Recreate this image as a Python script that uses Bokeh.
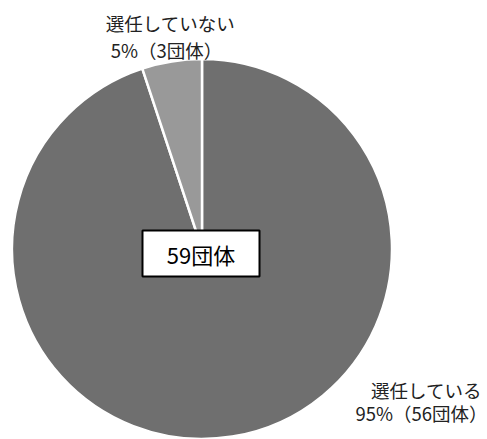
import math
from bokeh.plotting import figure
from bokeh.models import Range1d
from bokeh.core.properties import value
from bokeh.embed import file_html
from bokeh.resources import INLINE

categories = ["選任している", "選任していない"]
counts = [56, 3]
colors = ["#6f6f6f", "#999999"]
total_label = "59団体"
label_lines = [["選任している", "95%（56団体）"], ["選任していない", "5%（3団体）"]]

W, H = 487, 439
p = figure(width=W, height=H, output_backend="svg", toolbar_location=None,
           x_range=Range1d(0, W), y_range=Range1d(0, H), min_border=0)
p.axis.visible = False
p.grid.visible = False
p.outline_line_color = None
p.background_fill_color = "white"

cx, cy, r = 201.5, H - 248.5, 190
total = sum(counts)
# big slice clockwise from 12 o'clock, small slice fills the rest
angles = []
start = math.pi / 2
for c in counts:
    end = start - 2 * math.pi * c / total
    angles.append((end, start))
    start = end
p.wedge(x=[cx] * len(counts), y=[cy] * len(counts), radius=r,
        start_angle=[a[0] for a in angles], end_angle=[a[1] for a in angles],
        fill_color=colors, line_color="white", line_width=2.5)

# center box
p.rect(x=[200.5], y=[H - 253], width=117, height=46, fill_color="white",
       line_color="black", line_width=2)
p.text(x=[200.5], y=[H - 253], text=[total_label], text_align="center",
       text_baseline="middle", text_font=value("Noto Sans CJK JP"),
       text_font_size="22px", text_color="black")

font = value("Noto Sans CJK JP")
# label for 選任している (bottom right)
p.text(x=[426, 421], y=[H - 389, H - 412], text=label_lines[0], text_align="center",
       text_baseline="middle", text_font=font, text_font_size="18.5px", text_color="#222222")
# label for 選任していない (top)
p.text(x=[170, 166], y=[H - 22, H - 49], text=label_lines[1], text_align="center",
       text_baseline="middle", text_font=font, text_font_size="18.5px", text_color="#222222")

open("out.html", "w").write(file_html(p, INLINE))
